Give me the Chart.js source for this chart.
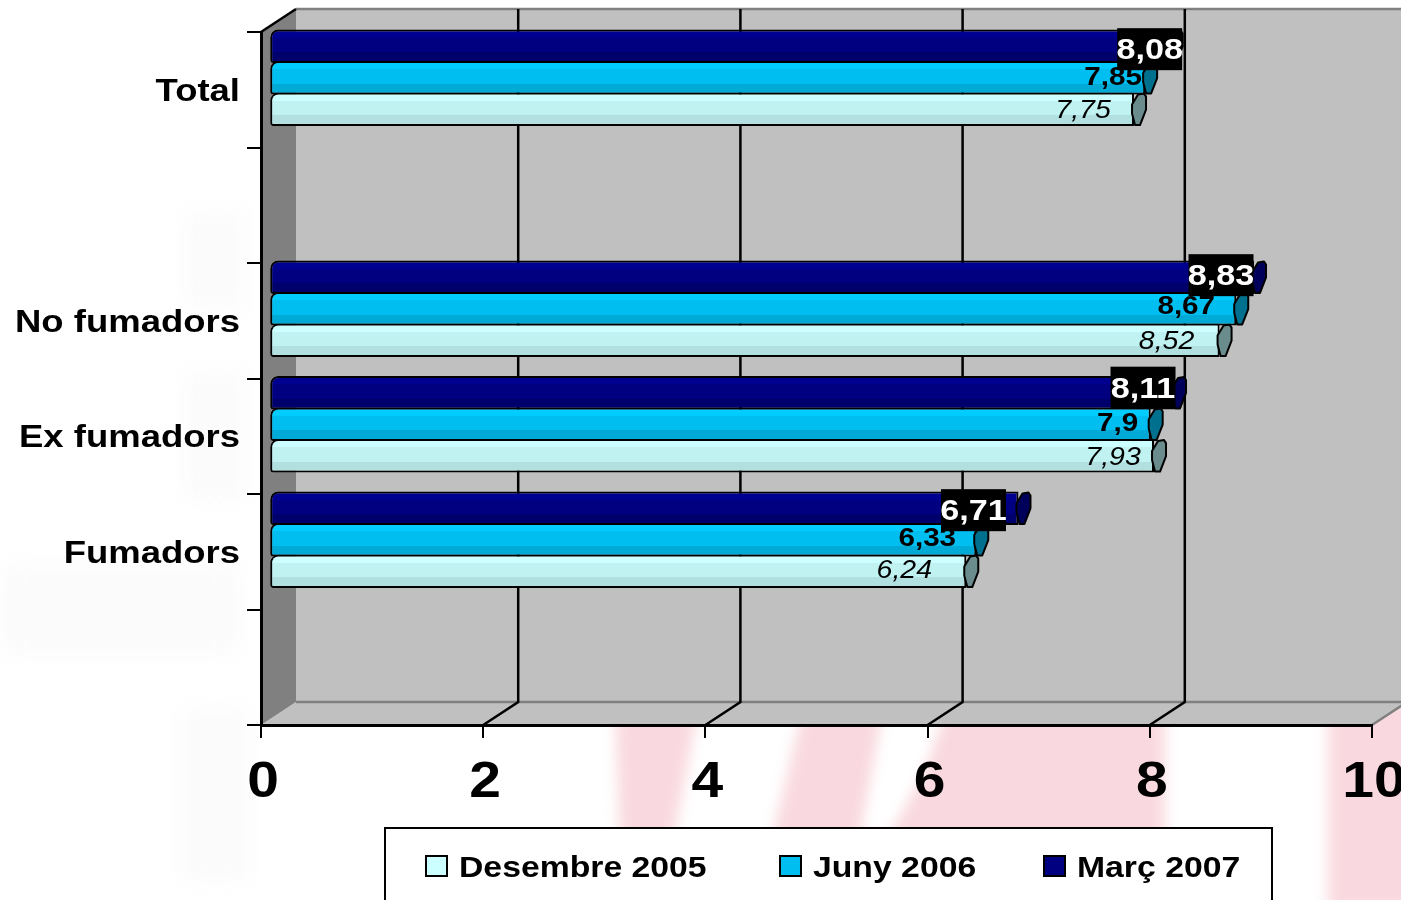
<!DOCTYPE html>
<html>
<head>
<meta charset="utf-8">
<title>Fumadors</title>
<script src="https://cdn.jsdelivr.net/npm/chart.js@4"></script>
<style>
	html, body { margin: 0; padding: 0; background: #fff; overflow: hidden; }
	canvas { display: block; }
</style>
</head>
<body>
<canvas id="chart" width="1401" height="900"></canvas>
<script>
// Data, top to bottom on the chart (two categories are empty)
const categories = ['Total', '', 'No fumadors', 'Ex fumadors', 'Fumadors', '']
const marc2007 = [8.08, null, 8.83, 8.11, 6.71, null]
const juny2006 = [7.85, null, 8.67, 7.9, 6.33, null]
const desembre2005 = [7.75, null, 8.52, 7.93, 6.24, null]
const seriesNames = ['Març 2007', 'Juny 2006', 'Desembre 2005']

// Hand placed data labels, relative to the end of each bar
const labelDx = [
	[-9, 0, -21, -19, -33, 0],
	[-20, 0, -38, -21, -37, 0],
	[-39, 0, -41, -29, -50, 0],
]
const labelDy = [
	[3, 0, -2, -5, 2, 0],
	[-2, 0, -4, -2, -3, 0],
	[0, 0, 0, 0, -2, 0],
]

// Bands of the fake 3D bars: top, middle, bottom, end cap
const barBands = [
	['#000090', '#000080', '#00006c', '#00005a'],
	['#00ccff', '#00bef0', '#00aad6', '#00708f'],
	['#ccffff', '#c0f2f2', '#b2e0e0', '#6a8c8c'],
]

// Depth of the 3D box and of the bars inside it
const wallDx = 35
const wallDy = 23
const barDx = 12
const barDy = 12
const textStretch = 1.14

function poly(ctx, pts) {
	ctx.beginPath()
	pts.forEach((p, i) => (i ? ctx.lineTo(p[0], p[1]) : ctx.moveTo(p[0], p[1])))
	ctx.closePath()
}

function paintBackground(ctx) {
	ctx.save()
	ctx.filter = 'blur(7px)'
	ctx.fillStyle = '#f9d9df'
	poly(ctx, [[615, 700], [700, 700], [660, 910], [622, 910]])
	ctx.fill()
	poly(ctx, [[805, 700], [1165, 700], [1165, 910], [755, 910]])
	ctx.fill()
	ctx.fillRect(1328, 700, 90, 210)
	ctx.fillStyle = '#ffffff'
	poly(ctx, [[885, 700], [950, 700], [925, 770], [890, 835], [860, 835]])
	ctx.fill()
	// faint grey watermark on the left
	ctx.filter = 'blur(12px)'
	ctx.fillStyle = '#fbfbfb'
	ctx.fillRect(0, 565, 240, 90)
	ctx.fillRect(185, 210, 60, 100)
	ctx.fillRect(185, 370, 60, 130)
	ctx.fillRect(180, 710, 70, 170)
	ctx.restore()
}

const box3d = {
	id: 'box3d',
	// every text on this chart is a bit wider than the font
	beforeInit(chart) {
		const ctx = chart.ctx
		const fillText = ctx.fillText.bind(ctx)
		ctx.fillText = function (text, x, y) {
			ctx.save()
			ctx.translate(x, y)
			ctx.scale(textStretch, 1)
			fillText(text, 0, 0)
			ctx.restore()
		}
	},
	beforeDraw(chart) {
		const ctx = chart.ctx
		const { left, right, top, bottom } = chart.chartArea
		paintBackground(ctx)

		// back wall
		ctx.fillStyle = '#c0c0c0'
		ctx.fillRect(left + wallDx, top - wallDy, right - left + 40, bottom - top)
		// floor
		poly(ctx, [
			[left, bottom],
			[left + wallDx, bottom - wallDy],
			[right + wallDx, bottom - wallDy],
			[right, bottom],
		])
		ctx.fill()
		// side wall
		ctx.fillStyle = '#808080'
		poly(ctx, [
			[left, top],
			[left + wallDx, top - wallDy],
			[left + wallDx, bottom - wallDy],
			[left, bottom],
		])
		ctx.fill()

		// grey edges of the box
		ctx.strokeStyle = '#808080'
		ctx.lineWidth = 2.5
		ctx.beginPath()
		ctx.moveTo(left + wallDx, top - wallDy)
		ctx.lineTo(1401, top - wallDy)
		ctx.moveTo(left + wallDx, bottom - wallDy)
		ctx.lineTo(1401, bottom - wallDy)
		ctx.moveTo(right, bottom)
		ctx.lineTo(right + wallDx, bottom - wallDy)
		ctx.stroke()

		// gridlines: along the floor and up the back wall
		const xScale = chart.scales.x
		ctx.strokeStyle = '#000'
		ctx.lineWidth = 2.5
		xScale.ticks.forEach((t, i) => {
			if (i === 0 || i === xScale.ticks.length - 1) return
			const x = xScale.getPixelForTick(i)
			ctx.beginPath()
			ctx.moveTo(x, bottom)
			ctx.lineTo(x + wallDx, bottom - wallDy)
			ctx.lineTo(x + wallDx, top - wallDy)
			ctx.stroke()
		})
		ctx.beginPath()
		ctx.moveTo(left, top)
		ctx.lineTo(left + wallDx, top - wallDy)
		ctx.stroke()
	},
	beforeDatasetDraw(chart, args) {
		const ctx = chart.ctx
		const bands = barBands[args.index]
		args.meta.data.forEach(el => {
			if (!Number.isFinite(el.x) || !Number.isFinite(el.y)) return
			const t = el.y - el.height / 2
			const g = ctx.createLinearGradient(0, t, 0, t + el.height)
			g.addColorStop(0, bands[0])
			g.addColorStop(0.25, bands[0])
			g.addColorStop(0.25, bands[1])
			g.addColorStop(0.68, bands[1])
			g.addColorStop(0.68, bands[2])
			g.addColorStop(1, bands[2])
			el.options = Object.assign({}, el.options, { backgroundColor: g })
		})
		ctx.save()
		ctx.translate(barDx, -barDy)
	},
	afterDatasetDraw(chart, args) {
		const ctx = chart.ctx
		const values = chart.data.datasets[args.index].data
		// end cap of each bar
		ctx.fillStyle = barBands[args.index][3]
		ctx.strokeStyle = '#000'
		ctx.lineWidth = 2
		ctx.lineJoin = 'round'
		args.meta.data.forEach((el, i) => {
			if (values[i] === null) return
			const t = el.y - el.height / 2
			const b = el.y + el.height / 2
			const e = el.x
			poly(ctx, [
				[e - 2, t + 12],
				[e + 4, t + 2],
				[e + 10, t + 1],
				[e + 12, t + 4],
				[e + 12, t + 17],
				[e + 6, b - 1],
				[e + 1, b - 1],
				[e - 2, t + 21],
			])
			ctx.fill()
			ctx.stroke()
		})
		ctx.restore()
	},
	afterDraw(chart) {
		const ctx = chart.ctx
		const sets = chart.data.datasets

		// data labels: bottom series first so the black boxes end up on top
		ctx.textAlign = 'center'
		ctx.textBaseline = 'middle'
		for (let d = sets.length - 1; d >= 0; d--) {
			const meta = chart.getDatasetMeta(d)
			sets[d].data.forEach((v, i) => {
				if (v === null) return
				const el = meta.data[i]
				const x = el.x + labelDx[d][i]
				const y = el.y - barDy + labelDy[d][i]
				const text = String(v).replace('.', ',')
				if (d === 0) {
					ctx.fillStyle = '#000'
					ctx.fillRect(x - 32.5, y - 21, 65, 42)
					ctx.fillStyle = '#fff'
					ctx.font = 'bold 30px "Liberation Sans"'
				} else if (d === 1) {
					ctx.fillStyle = '#000'
					ctx.font = 'bold 26px "Liberation Sans"'
				} else {
					ctx.fillStyle = '#000'
					ctx.font = 'italic 25px "Liberation Sans"'
				}
				ctx.fillText(text, x, y + 2)
			})
		}

		// legend box, runs off the bottom of the picture
		ctx.fillStyle = '#fff'
		ctx.strokeStyle = '#000'
		ctx.lineWidth = 2
		ctx.fillRect(385, 828, 887, 80)
		ctx.strokeRect(385, 828, 887, 80)
		const itemX = [1044, 780, 426]
		ctx.textAlign = 'left'
		ctx.font = 'bold 29.6px "Liberation Sans"'
		sets.forEach((s, d) => {
			ctx.fillStyle = barBands[d][d === 2 ? 0 : 1]
			ctx.fillRect(itemX[d], 856, 21, 20)
			ctx.strokeRect(itemX[d], 856, 21, 20)
			ctx.fillStyle = '#000'
			ctx.fillText(s.label, itemX[d] + 33, 869)
		})
	},
}

const barStyle = {
	base: -0.025,
	borderColor: '#000',
	borderWidth: 2,
	borderSkipped: false,
	borderRadius: { topLeft: 8, bottomLeft: 3, topRight: 0, bottomRight: 0 },
	barPercentage: 1.06,
	categoryPercentage: 0.82,
	clip: false,
}

new Chart(document.getElementById('chart'), {
	type: 'bar',
	data: {
		labels: categories,
		datasets: [
			Object.assign({ label: seriesNames[0], data: marc2007, backgroundColor: barBands[0][1] }, barStyle),
			Object.assign({ label: seriesNames[1], data: juny2006, backgroundColor: barBands[1][1] }, barStyle),
			Object.assign({ label: seriesNames[2], data: desembre2005, backgroundColor: barBands[2][1] }, barStyle),
		],
	},
	plugins: [box3d],
	options: {
		indexAxis: 'y',
		responsive: false,
		animation: false,
		layout: { padding: { left: 0, right: 29, top: 32, bottom: 0 } },
		plugins: {
			legend: { display: false },
			tooltip: { enabled: false },
		},
		scales: {
			x: {
				min: 0,
				max: 10,
				afterFit: scale => {
					scale.height = 175
					scale.paddingRight = 0
					scale.paddingLeft = 0
				},
				grid: { drawOnChartArea: false, color: '#000', lineWidth: 2, tickLength: 13 },
				border: { color: '#000', width: 3 },
				ticks: {
					stepSize: 2,
					maxRotation: 0,
					padding: 15,
					labelOffset: 2,
					color: '#000',
					font: { family: 'Liberation Sans', size: 50, weight: 'bold' },
				},
			},
			y: {
				afterFit: scale => { scale.width = 261 },
				grid: { drawOnChartArea: false, color: '#000', lineWidth: 2, tickLength: 14 },
				border: { color: '#000', width: 3 },
				ticks: {
					autoSkip: false,
					padding: 7,
					labelOffset: 2,
					color: '#000',
					font: { family: 'Liberation Sans', size: 32, weight: 'bold' },
				},
			},
		},
	},
})
</script>
</body>
</html>
